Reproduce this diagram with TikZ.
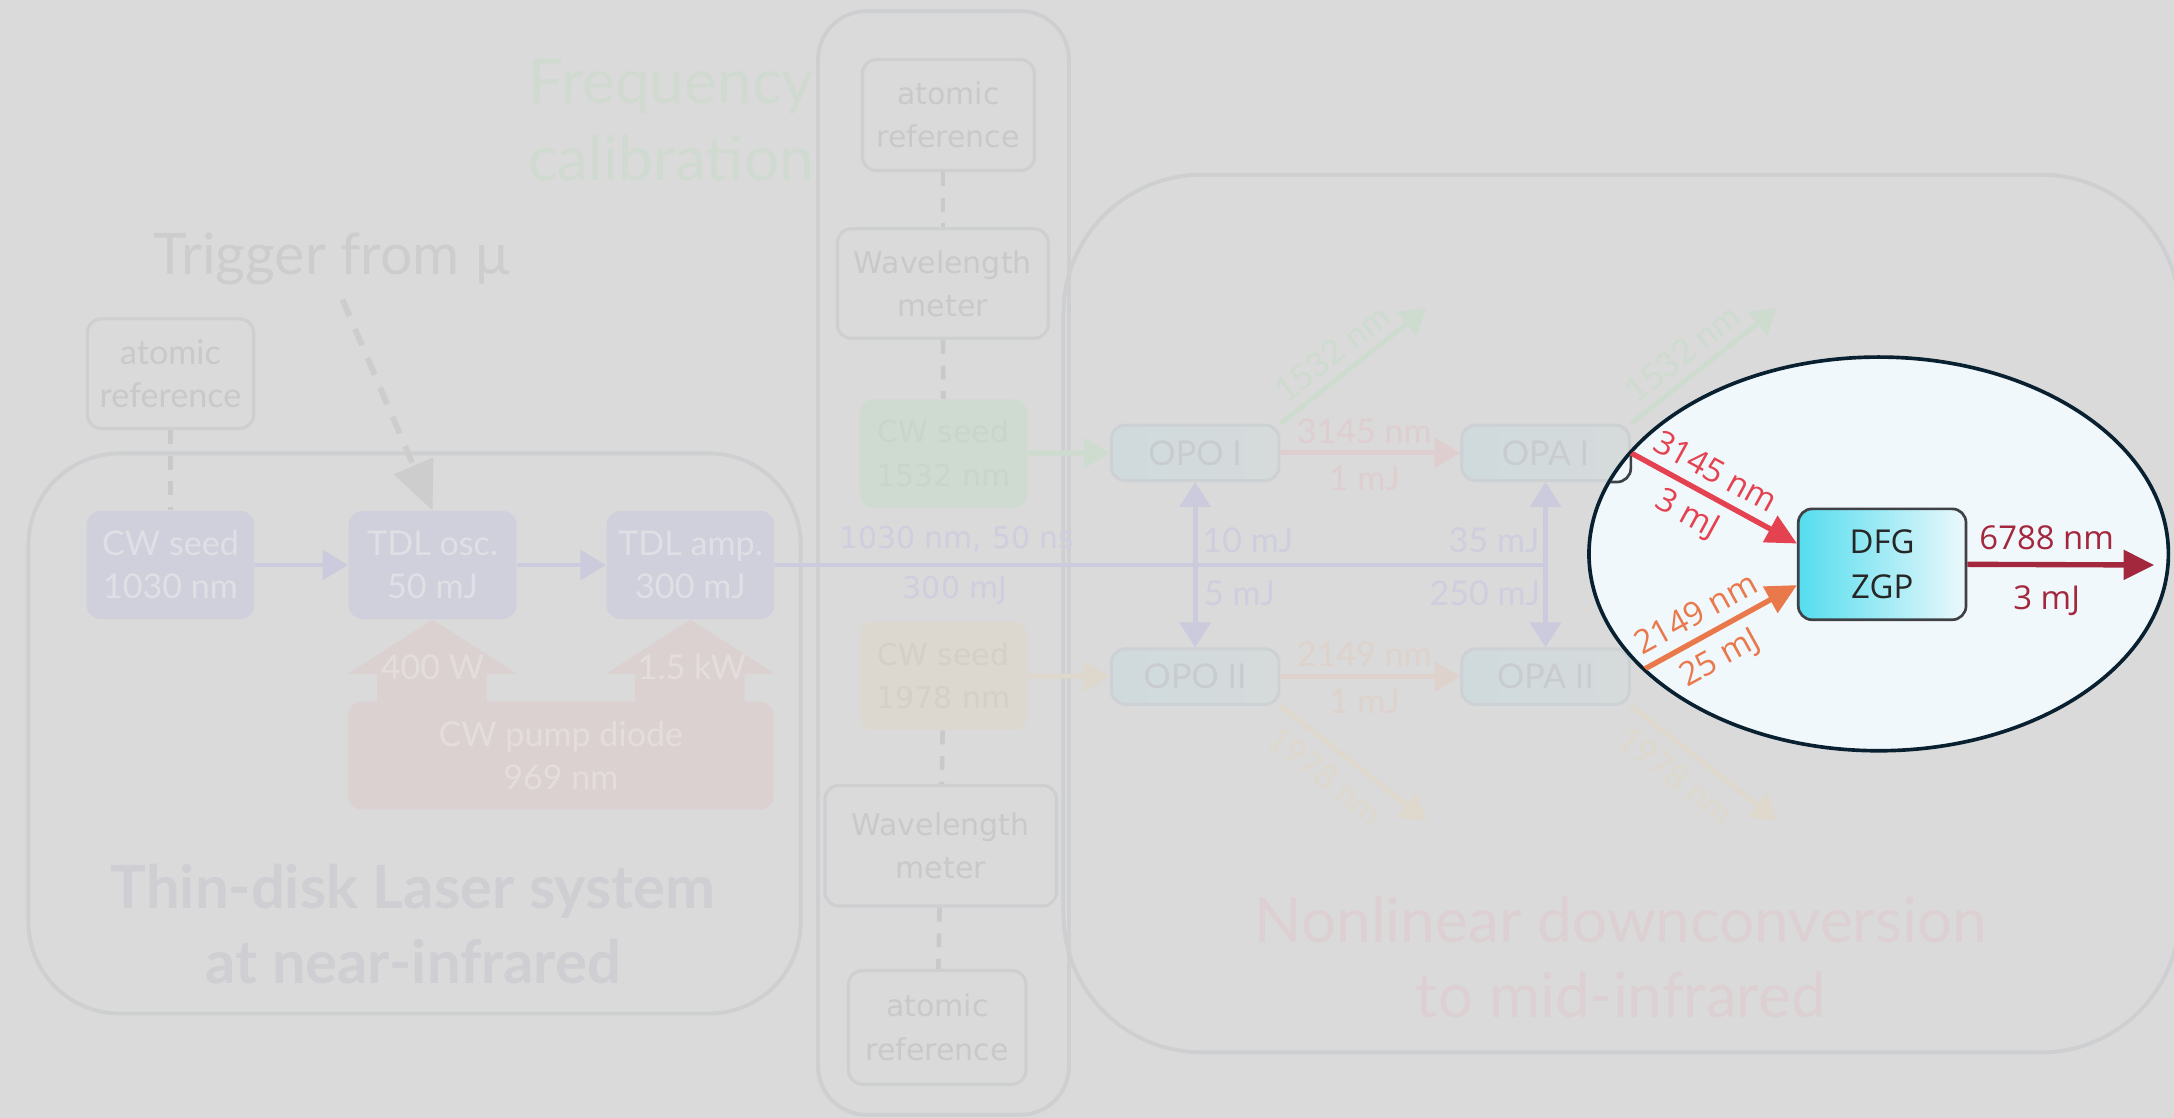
\documentclass[tikz,border=0pt]{standalone}
\usepackage{fontspec}
\setmainfont{Open Sans}
\newfontfamily\latof{Lato}
\newfontfamily\dejaf{DejaVu Sans}
\usetikzlibrary{arrows.meta,positioning,shapes.geometric}
\definecolor{bggray}{RGB}{218,218,218}
\definecolor{framegray}{RGB}{206,207,209}
\definecolor{refgray}{RGB}{201,201,201}
\definecolor{trgray}{RGB}{205,205,205}
\definecolor{lavfill}{RGB}{208,208,220}
\definecolor{lavtext}{RGB}{223,223,229}
\definecolor{lavline}{RGB}{203,203,221}
\definecolor{lavlab}{RGB}{206,206,222}
\definecolor{pumpfill}{RGB}{220,209,209}
\definecolor{pumptext}{RGB}{228,221,221}
\definecolor{grfill}{RGB}{207,218,208}
\definecolor{grtext}{RGB}{201,213,203}
\definecolor{grline}{RGB}{206,219,207}
\definecolor{orfill}{RGB}{220,216,207}
\definecolor{ortext}{RGB}{212,208,199}
\definecolor{orline}{RGB}{222,215,204}
\definecolor{opoleft}{RGB}{207,218,220}
\definecolor{oporight}{RGB}{214,218,219}
\definecolor{opoline}{RGB}{205,209,211}
\definecolor{opotext}{RGB}{200,204,206}
\definecolor{redfaint}{RGB}{222,206,208}
\definecolor{orfaint}{RGB}{222,211,204}
\definecolor{yefaint}{RGB}{222,216,205}
\definecolor{calibgreen}{RGB}{209,218,209}
\definecolor{nirtitle}{RGB}{206,206,211}
\definecolor{mirtitle}{RGB}{221,208,210}
\definecolor{focfill}{RGB}{241,248,252}
\definecolor{focline}{RGB}{8,32,48}
\definecolor{idlered}{RGB}{228,66,80}
\definecolor{signalor}{RGB}{233,120,75}
\definecolor{mirred}{RGB}{163,40,61}
\definecolor{dfgcyan}{RGB}{84,221,238}
\definecolor{dfglight}{RGB}{236,248,252}
\definecolor{dfgline}{RGB}{62,66,70}

\begin{document}
\begin{tikzpicture}[x=0.02cm, y=-0.02cm,
    sm/.style={font=\latof\fontsize{14}{17.6}\selectfont, align=center, inner sep=0.5pt},
    wd/.style={font=\dejaf\fontsize{12.3}{17.8}\selectfont, align=center, inner sep=0.5pt},
    big/.style={font=\latof\fontsize{25.5}{31.5}\selectfont, align=center, inner sep=0.5pt},
    focf/.style={font=\fontsize{13.5}{18.8}\selectfont, align=center},
    box/.style={rounded corners=0.2cm, align=center, inner sep=0pt},
    refbox/.style={box, draw=framegray, line width=1.3pt, text=refgray},
    lasbox/.style={box, sm, fill=lavfill, text=lavtext, minimum width=2.42cm, minimum height=1.56cm},
    opbox/.style={box, sm, draw=opoline, line width=1.2pt, left color=opoleft, right color=oporight, text=opotext, minimum width=2.42cm, minimum height=0.8cm},
    zone/.style={draw=framegray, line width=1.6pt},
    link/.style={line width=2pt, -{Triangle[length=0.37cm, width=0.42cm]}},
    dbl/.style={line width=2pt, {Triangle[length=0.36cm, width=0.44cm]}-{Triangle[length=0.36cm, width=0.44cm]}},
    dsh/.style={draw=refgray, line width=1.9pt, dash pattern=on 0.2cm off 0.17cm},
    flab/.style={focf, inner sep=0pt, sloped},
    beam/.style={line width=2.2pt, -{Triangle[length=0.44cm, width=0.42cm]}}]
  \useasboundingbox (0,0) rectangle (1568,806);
  \fill[bggray] (0,0) rectangle (1568,806);
  \draw[zone, rounded corners=1.32cm] (20.5,327) rectangle (577.5,731);
  \draw[zone, rounded corners=0.7cm] (590,8) rectangle (771,804);
  \draw[zone, rounded corners=2cm] (767,126) rectangle (1572,759);

  \node[refbox, sm, minimum width=2.4cm, minimum height=1.58cm] (refA) at (123,269.5) {atomic\\reference};
  \node[lasbox] (seedA) at (123,407.5) {CW seed\\1030 nm};
  \node[lasbox] (oscA) at (312,407.5) {TDL osc.\\50 mJ};
  \node[lasbox] (ampA) at (498,407.5) {TDL amp.\\300 mJ};
  \fill[pumpfill] (272,510) -- (272,486) -- (251,486) -- (oscA.south) -- (373,486) -- (351,486) -- (351,510) -- cycle;
  \fill[pumpfill] (458,510) -- (458,486) -- (437,486) -- (ampA.south) -- (559,486) -- (537,486) -- (537,510) -- cycle;
  \node[box, sm, fill=pumpfill, text=pumptext, minimum width=6.14cm, minimum height=1.56cm] (pump) at (404.5,545) {CW pump diode\\969 nm};
  \node[sm, text=pumptext] (pwA) at (312,481) {400 W};
  \node[sm, text=pumptext] (pwB) at (499,481) {1.5 kW};
  \draw[link, lavline] (seedA) -- (oscA);
  \draw[link, lavline] (oscA) -- (ampA);
  \draw[dsh] (refA) -- (seedA);
  \node[font=\latof\fontsize{23.5}{28}\selectfont, text=trgray, inner sep=0.5pt] (trig) at (240,187) {Trigger from µ};
  \coordinate (trigS) at (247,216);
  \draw[dsh, draw=trgray, line width=2.4pt, dash pattern=on 0.26cm off 0.2cm, -{Triangle[length=0.7cm, width=0.6cm]}] (trigS) -- (oscA.north);
  \node[font=\latof\bfseries\fontsize{24.5}{31}\selectfont, align=center, text=nirtitle, inner sep=0.5pt] (nir) at (298,666.5) {Thin-disk Laser system\\at near-infrared};

  \node[big, text=calibgreen] (calib) at (484,86.5) {Frequency\\calibration};
  \node[refbox, wd, minimum width=2.48cm, minimum height=1.6cm] (refB) at (684,83) {atomic\\reference};
  \node[refbox, wd, minimum width=3.04cm, minimum height=1.58cm] (wmB) at (680,204.5) {Wavelength\\meter};
  \node[box, wd, fill=grfill, text=grtext, minimum width=2.42cm, minimum height=1.56cm] (seedB) at (680.5,327) {CW seed\\1532 nm};
  \node[box, wd, fill=orfill, text=ortext, minimum width=2.42cm, minimum height=1.56cm] (seedC) at (680.5,487.5) {CW seed\\1978 nm};
  \node[refbox, wd, minimum width=3.34cm, minimum height=1.74cm] (wmC) at (678.5,610) {Wavelength\\meter};
  \node[refbox, wd, minimum width=2.56cm, minimum height=1.64cm] (refC) at (676,741) {atomic\\reference};
  \draw[dsh] (refB.south -| wmB) -- (wmB.north);
  \draw[dsh] (wmB) -- (seedB);
  \draw[dsh] (seedC) -- (wmC);
  \draw[dsh] (wmC) -- (refC);

  \node[opbox] (opoA) at (862,326.6) {OPO I};
  \node[opbox] (opaA) at (1114.7,326.6) {OPA I};
  \node[opbox] (opoB) at (862,488) {OPO II};
  \node[opbox] (opaB) at (1114.7,488) {OPA II};
  \draw[link, grline] (seedB) -- (opoA);
  \draw[link, orline] (seedC) -- (opoB);
  \coordinate (tapB) at (opaA.south |- ampA.east);
  \draw[lavline, line width=2pt] (ampA.east) -- (tapB);
  \draw[dbl, lavline] (opoA.south) -- (opoB.north);
  \draw[dbl, lavline] (opaA.south) -- (opaB.north);
  \node[wd, text=lavlab] (bmA) at (690,389) {1030 nm, 50 ns};
  \node[wd, text=lavlab] (bmB) at (689,426) {300 mJ};
  \node[sm, text=lavlab] (enA) at (900,390) {10 mJ};
  \node[sm, text=lavlab] (enB) at (894,428) {5 mJ};
  \node[sm, text=lavlab] (enC) at (1077.6,390) {35 mJ};
  \node[sm, text=lavlab] (enD) at (1071,428) {250 mJ};
  \draw[link, redfaint] (opoA) -- (opaA);
  \draw[link, orfaint] (opoB) -- (opaB);
  \node[sm, text=redfaint] (idA) at (984,311) {3145 nm};
  \node[sm, text=redfaint] (idB) at (984,345) {1 mJ};
  \node[sm, text=orfaint] (sgA) at (984,472) {2149 nm};
  \node[sm, text=orfaint] (sgB) at (984,506) {1 mJ};
  \coordinate (gA) at (1029,222);
  \coordinate (gB) at (1282,222);
  \coordinate (yA) at (1029,592);
  \coordinate (yB) at (1282,592);
  \draw[link, grline] (opoA.north east) -- node[sm, sloped, above, pos=0.45, inner sep=3.5pt, text=grline] {1532 nm} (gA);
  \draw[link, grline] (opaA.north east) -- node[sm, sloped, above, pos=0.45, inner sep=3.5pt, text=grline] {1532 nm} (gB);
  \draw[link, yefaint] (opoB.south east) -- node[sm, sloped, below, pos=0.42, inner sep=5pt, text=yefaint] {1978 nm} (yA);
  \draw[link, yefaint] (opaB.south east) -- node[sm, sloped, below, pos=0.42, inner sep=5pt, text=yefaint] {1978 nm} (yB);
  \node[big, text=mirtitle, font=\latof\fontsize{25.5}{30.7}\selectfont] (mir) at (1169,690.4) {Nonlinear downconversion\\to mid-infrared};

  \node[ellipse, draw=focline, line width=1.5pt, fill=focfill, minimum width=8.36cm, minimum height=5.68cm, inner sep=0pt] (foc) at (1355,399.5) {};
  \node[box, focf, draw=dfgline, line width=1.1pt, left color=dfgcyan, middle color=dfgcyan!70!dfglight, right color=dfglight, text=black!85, minimum width=2.42cm, minimum height=1.6cm] (dfg) at (1357.5,407) {DFG\\ZGP};
  \begin{scope}
    \clip (foc.center) ellipse [x radius=4.16cm, y radius=2.82cm];
    \draw[dfgline, line width=1.1pt, rounded corners=0.2cm] (opaA.south west) rectangle (opaA.north east);
    \draw[beam, idlered] (opaA.east) -- ([yshift=0.3cm]dfg.west);
    \draw[beam, signalor] (opaB.east) -- ([yshift=-0.3cm]dfg.west);
  \end{scope}
  \path (opaA.east) -- node[flab, above=5pt, pos=0.44, text=idlered] {3145 nm} node[flab, below=5pt, pos=0.42, text=idlered] {3 mJ} ([yshift=0.3cm]dfg.west);
  \path (opaB.east) -- node[flab, above=5pt, pos=0.46, text=signalor] {2149 nm} node[flab, below=5pt, pos=0.46, text=signalor] {25 mJ} ([yshift=-0.3cm]dfg.west);
  \coordinate (mirE) at (1553.6,407.5);
  \draw[beam, mirred] (dfg.east) -- node[focf, inner sep=0pt, above=5pt, pos=0.425, text=mirred] {6788 nm} node[focf, inner sep=0pt, below=7.5pt, pos=0.425, text=mirred] {3 mJ} (mirE);
\end{tikzpicture}
\end{document}
